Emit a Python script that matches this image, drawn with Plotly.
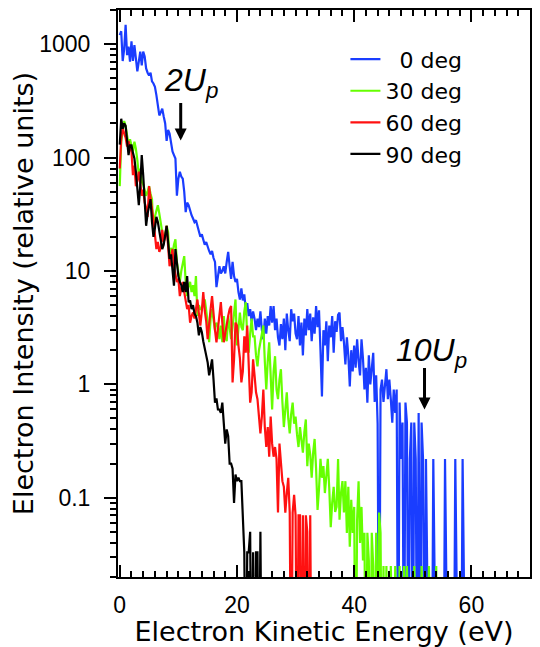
import numpy as np
import plotly.graph_objects as go

STEP = 0.25  # eV bin width

# Intensities (relative units), one value per 0.25 eV bin starting at 0 eV; 0 = no counts
deg0 = [
    1200, 1300, 710, 900,   1480, 800, 950, 700,   1060, 710, 980, 750,   575, 700, 860, 650,
    860, 780, 610, 560,     530, 560, 470, 450,    420, 355, 290, 235,    250, 270, 230, 200,
    140, 175, 163, 130,     113, 105, 98, 46,      65, 75, 68, 65,        50, 33, 40, 38,
    34, 31, 29, 27,         28, 25, 22, 20,        21, 19, 17, 18,        16, 15, 14, 15,
    13, 12, 7.2, 9,         11, 9.5, 10, 11,       9.5, 12, 14.7, 11,     8.5, 12, 9, 8,
    8.5, 6.5, 5.6, 7,       5.5, 6.2, 4.6, 5.2,    4.0, 4.6, 3.6, 4.4,    3.8, 3.0, 3.8, 3.2,
    4.4, 3.0, 2.5, 3.8,     2.8, 4.0, 3.3, 4.9,    3.5, 4.9, 3.0, 3.8,    2.6, 2.2, 3.4, 2.5,
    3.8, 2.0, 4.2, 3.0,     2.4, 4.6, 3.6, 4.2,    2.8, 2.5, 4.0, 2.2,    3.5, 1.8, 3.8, 2.7,
    4.6, 3.0, 4.2, 2.4,     3.9, 2.8, 4.9, 3.2,    4.5, 2.0, 0.78, 3.0,   2.2, 3.6, 1.6, 3.3,
    2.6, 4.0, 1.9, 3.6,     2.9, 4.1, 4.3, 2.4,    3.2, 2.35, 1.5, 2.6,   1.8, 0.96, 2.0, 1.3,
    2.2, 1.4, 2.5, 1.6,     1.2, 2.5, 1.7, 0.9,    1.4, 0.69, 1.8, 1.0,   1.3, 1.9, 0.7, 1.2,
    0.45, 0, 0.9, 1.1,      0.7, 1.0, 1.36, 0.74,  1.1, 0.74, 0.46, 0.9,  0.56, 0.9, 0, 0.69,
    0.22, 0.46, 0, 0.69,    0.46, 0, 0.22, 0.46,   0, 0.46, 0.22, 0,      0.56, 0, 0.46, 0.22,
    0, 0.22, 0, 0,          0, 0, 0.22, 0,         0, 0, 0, 0,            0, 0, 0.22, 0,
    0, 0, 0, 0,             0, 0.22, 0, 0,         0, 0, 0.22, 0,         0,
]

deg30 = [
    56, 138, 170, 210,      190, 157, 130, 145,    125, 113, 138, 120,    95, 70, 80, 61,
    58, 52, 46, 50,         56, 48, 43, 22,        30, 34, 38, 32,        25, 22, 18, 21,
    25, 22, 12.8, 16,       14, 17, 19, 12,        10, 8, 10, 12,         13.5, 8, 6, 7.5,
    8, 6.5, 7.5, 6,         9, 4, 5, 4.6,          4.6, 5.2, 5.6, 4.5,    3.5, 2.35, 3.8, 4.6,
    3.6, 3.0, 3.5, 3.3,     2.5, 3.3, 2.35, 4.0,   2.6, 2.4, 4.0, 3.0,    2.5, 3.2, 4.6, 5.6,
    2.2, 3.4, 4.3, 3.2,     3.0, 4.4, 5.3, 2.6,    1.9, 2.8, 3.8, 2.65,   2.65, 1.8, 1.44, 2.0,
    2.35, 3.0, 3.3, 1.6,    0.9, 1.6, 2.35, 1.2,   0.6, 1.3, 1.77, 0.9,   0.74, 1.1, 1.36, 0.7,
    0.42, 0.6, 0.85, 0.5,   0.37, 0.55, 0.69, 0.45, 0.52, 0.36, 0.28, 0.42, 0.30, 0.25, 0.38, 0.49,
    0.19, 0.3, 0.24, 0.15,  0.25, 0.33, 0.18, 0.078, 0.12, 0.22, 0.15, 0.19, 0.11, 0.17, 0.22, 0.12,
    0.055, 0.09, 0.125, 0.075, 0.083, 0.22, 0.064, 0.11, 0.14, 0.074, 0.14, 0.049, 0.125, 0.037, 0.096, 0.049,
    0.083, 0, 0.064, 0.14,  0.04, 0.083, 0.028, 0.049, 0, 0.049, 0.028, 0, 0.049, 0.025, 0, 0.049,
    0, 0.074, 0.049, 0,     0.025, 0, 0.025, 0,    0, 0.025, 0, 0,        0.025, 0, 0, 0.025,
    0, 0, 0.025, 0,         0.025, 0, 0, 0,        0, 0.025, 0, 0,        0, 0, 0.025, 0,
    0, 0, 0, 0.025,         0, 0, 0, 0,            0.025, 0,
]

deg60 = [
    80, 147, 180, 165,      150, 125, 140, 120,    113, 70, 85, 56,       62, 75, 58, 46,
    52, 40, 36, 30,         56, 42, 35, 28,        22, 15.6, 18, 14.7,    16, 23, 18, 20,
    25, 16, 11, 13,         15.6, 11, 9, 8,        8.5, 6, 7, 8,          6.5, 5.5, 4.6, 5,
    3.5, 4.0, 4.3, 3.8,     4.6, 5.6, 4.2, 3.3,    4.4, 6.5, 4.5, 3.6,    2.5, 3.2, 4.6, 6.0,
    4.0, 3.0, 2.35, 3.2,    4.2, 5.3, 3.5, 2.35,   2.8, 3.5, 4.0, 4.6,    4.9, 1.04, 1.66, 3.5,
    3.3, 2.2, 1.7, 1.04,    1.3, 2.65, 1.9, 3.3,   1.5, 0.69, 0.85, 1.66, 1.2, 0.85, 0.74, 0.5,
    0.37, 0.52, 0.9, 0.42,  0.28, 0.42, 0.23, 0.52, 0.3, 0.23, 0.28, 0.22, 0.074, 0.3, 0.19, 0.14,
    0.125, 0.074, 0.11, 0.15, 0.074, 0, 0.074, 0.106, 0.07, 0, 0.07, 0.07, 0, 0.07, 0, 0.07,
    0.05, 0, 0.07, 0,
]

deg90 = [
    130, 220, 180, 200,     190, 140, 105, 128,    128, 110, 98, 75,      50, 38, 56, 105,
    70, 40, 25, 32,         38, 43, 27, 20,        24, 30, 27, 22,        18, 15.6, 17, 22,
    25, 18, 12.8, 14,       10, 7.4, 15.6, 11,     9, 8, 7.5, 6.5,        8, 6.5, 9, 5.3,
    5.5, 4.6, 5.0, 4.2,     4.0, 3.5, 2.7, 3.2,    2.9, 2.4, 2.0, 1.8,    1.56, 1.2, 1.4, 1.66,
    1.1, 0.69, 0.75, 0.6,   0.6, 0.56, 0.69, 0.45, 0.3, 0.4, 0.35, 0.2,   0.2, 0.18, 0.09, 0.16,
    0.14, 0.15, 0.14, 0.14, 0.064, 0.033, 0, 0.033, 0.033, 0.05, 0, 0.033, 0, 0.033, 0.033, 0,
    0.05, 0,
]

series_names = ["\u20070 deg", "30 deg", "60 deg", "90 deg"]
series_values = [deg0, deg30, deg60, deg90]
series_colors = ["#1a3dff", "#66ff00", "#ff1111", "#000000"]

y_tickvals = [0.1, 1, 10, 100, 1000]
y_ticktext = ["0.1", "1", "10", "100", "1000"]
x_tickvals = [0, 20, 40, 60]

ZERO_FLOOR = 1e-3  # zero-count bins are drawn below the axis floor

fig = go.Figure()
for name, vals, col in zip(series_names, series_values, series_colors):
    energy = np.arange(len(vals)) * STEP
    yv = [v if v > 0 else ZERO_FLOOR for v in vals]
    fig.add_trace(go.Scatter(x=energy, y=yv, mode="lines", name=name,
                             line=dict(color=col, width=2.2)))

tick_font = dict(family="Liberation Sans, Arial, sans-serif", size=23, color="black")
title_font = dict(family="DejaVu Sans, sans-serif", size=27, color="black")

fig.update_xaxes(
    range=[-0.3, 70], tickvals=x_tickvals, ticks="inside", ticklen=12, tickwidth=2,
    tickcolor="black", showline=True, linewidth=2, linecolor="black", mirror="ticks",
    minor=dict(dtick=2, tick0=0, ticks="inside", ticklen=6, tickwidth=2, tickcolor="black"),
    showgrid=False, zeroline=False, tickfont=tick_font, ticklabelstandoff=6,
    automargin=False,
    title=dict(text="Electron Kinetic Energy (eV)", font=title_font, standoff=0),
)
fig.update_yaxes(
    type="log", range=[np.log10(0.02), np.log10(2000)], tickvals=y_tickvals, ticktext=y_ticktext,
    ticks="outside", ticklen=12, tickwidth=2, tickcolor="black",
    showline=True, linewidth=2, linecolor="black", mirror="ticks",
    minor=dict(dtick="D1", ticks="outside", ticklen=6, tickwidth=2, tickcolor="black"),
    showgrid=False, zeroline=False, tickfont=tick_font, ticklabelstandoff=9,
    automargin=False,
    title=dict(text="Electron Intensity (relative units)", font=title_font, standoff=0),
)

ann_font = dict(family="Liberation Sans, Arial, sans-serif", size=32, color="black")
fig.add_annotation(x=12.1, y=np.log10(460), text="<i>2U<sub>p</sub></i>", showarrow=False,
                   font=ann_font, xanchor="center", yanchor="middle")
fig.add_annotation(x=10.4, y=np.log10(141), text="", showarrow=True, ax=0, ay=-39,
                   arrowhead=2, arrowsize=0.8, arrowwidth=3, arrowcolor="black")
fig.add_annotation(x=53.2, y=np.log10(1.92), text="<i>10U<sub>p</sub></i>", showarrow=False,
                   font=ann_font, xanchor="center", yanchor="middle")
fig.add_annotation(x=52.0, y=np.log10(0.60), text="", showarrow=True, ax=0, ay=-43,
                   arrowhead=2, arrowsize=0.8, arrowwidth=3, arrowcolor="black")

# the page body adds an 8 px offset, so the figure is sized to fit the 540x647 window
fig.update_layout(
    width=532, height=639,
    margin=dict(l=110, r=10, t=2, b=70),
    plot_bgcolor="white", paper_bgcolor="white",
    showlegend=True,
    legend=dict(x=0.552, y=0.95, xanchor="left", yanchor="top", bgcolor="rgba(0,0,0,0)",
                font=dict(family="DejaVu Sans, sans-serif", size=22, color="black"),
                tracegroupgap=0, itemwidth=30),
)

fig.write_html("out.html")
